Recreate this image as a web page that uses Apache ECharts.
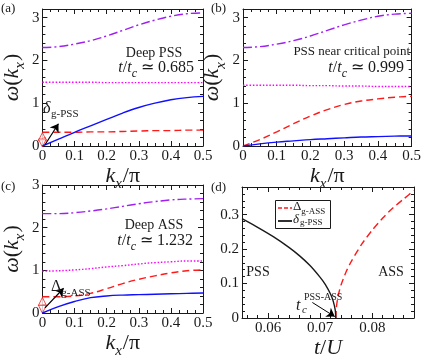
<!DOCTYPE html>
<html>
<head>
<meta charset="utf-8">
<script src="https://cdn.jsdelivr.net/npm/echarts@6/dist/echarts.min.js"></script>
<style>html,body{margin:0;padding:0;background:#fff}#chart{width:424px;height:360px}</style>
</head>
<body>
<div id="chart"></div>
<script>
// momentum grid k_x/pi, shared by panels a-c
var kx = [0, 0.05, 0.1, 0.15, 0.2, 0.25, 0.3, 0.35, 0.4, 0.45, 0.5];

// (a) deep PSS, t/tc = 0.685
var aBlue    = [0, 0.16, 0.32, 0.47, 0.62, 0.77, 0.90, 1.00, 1.08, 1.13, 1.16];
var aRed     = [0.32, 0.32, 0.32, 0.33, 0.33, 0.34, 0.35, 0.36, 0.36, 0.37, 0.37];
var aDot     = [1.49, 1.49, 1.49, 1.49, 1.48, 1.48, 1.48, 1.48, 1.48, 1.48, 1.48];
var aDashDot = [2.30, 2.32, 2.38, 2.46, 2.57, 2.70, 2.83, 2.94, 3.03, 3.09, 3.11];

// (b) PSS near critical point, t/tc = 0.999
var bBlue    = [0, 0.05, 0.09, 0.12, 0.15, 0.17, 0.19, 0.21, 0.22, 0.23, 0.235];
var bRed     = [0, 0.15, 0.33, 0.52, 0.70, 0.85, 0.97, 1.05, 1.10, 1.14, 1.16];
var bDot     = [1.42, 1.42, 1.42, 1.42, 1.41, 1.41, 1.40, 1.40, 1.39, 1.39, 1.39];
var bDashDot = [2.30, 2.32, 2.38, 2.46, 2.57, 2.70, 2.83, 2.94, 3.03, 3.08, 3.10];

// (c) deep ASS, t/tc = 1.232
var cBlue    = [0, 0.15, 0.27, 0.36, 0.40, 0.42, 0.43, 0.44, 0.45, 0.46, 0.47];
var cRed     = [0.38, 0.38, 0.40, 0.46, 0.57, 0.69, 0.79, 0.87, 0.94, 0.99, 1.01];
var cDot     = [0.98, 0.99, 1.01, 1.04, 1.08, 1.11, 1.15, 1.18, 1.20, 1.22, 1.22];
var cDashDot = [2.33, 2.33, 2.35, 2.39, 2.44, 2.50, 2.56, 2.61, 2.65, 2.67, 2.68];

// gap markers at k=0 (up / down open triangles)
var aGapMarks = [0.22, 0.07];
var cGapMarks = [0.27, 0.09];

// (d) gaps vs t/U
var tPss = [0.055, 0.058, 0.061, 0.064, 0.066, 0.068, 0.070, 0.071, 0.072, 0.0725, 0.0729, 0.073];
var gPss = [0.288, 0.263, 0.236, 0.205, 0.181, 0.153, 0.118, 0.097, 0.069, 0.049, 0.022, 0];
var tAss = [0.073, 0.0731, 0.0733, 0.0736, 0.074, 0.075, 0.076, 0.078, 0.080, 0.082, 0.084, 0.086, 0.088];
var gAss = [0, 0.03, 0.052, 0.074, 0.096, 0.135, 0.165, 0.215, 0.255, 0.29, 0.32, 0.345, 0.37];

// ticks
var kMajor = [0, 0.1, 0.2, 0.3, 0.4, 0.5];
var kMinor = [0.025, 0.05, 0.075, 0.125, 0.15, 0.175, 0.225, 0.25, 0.275, 0.325, 0.35, 0.375, 0.425, 0.45, 0.475];
var wMajor = [0, 1, 2, 3];
var wMinor = [0.2, 0.4, 0.6, 0.8, 1.2, 1.4, 1.6, 1.8, 2.2, 2.4, 2.6, 2.8, 3.0];
var tMajor = [0.06, 0.07, 0.08];
var tMinor = [0.056, 0.058, 0.062, 0.064, 0.066, 0.068, 0.072, 0.074, 0.076, 0.078, 0.082, 0.084, 0.086];
var gMajor = [0, 0.1, 0.2, 0.3];
var gMinor = [0.02, 0.04, 0.06, 0.08, 0.12, 0.14, 0.16, 0.18, 0.22, 0.24, 0.26, 0.28, 0.32, 0.34, 0.36];

var serif = 'Liberation Serif';
var ink = '#1a1a1a';
var BLUE = '#1010ff', RED = '#ff1a1a', MAG = '#ff00ff', PURP = '#a020f0';

var nameRich = {
  i: {fontFamily: serif, fontStyle: 'italic', fontSize: 22, color: ink},
  n: {fontFamily: serif, fontSize: 22, color: ink},
  s: {fontFamily: serif, fontStyle: 'italic', fontSize: 15, color: ink, verticalAlign: 'bottom', padding: [0, 1, -5, 0]}
};
var kName = '{i|k}{s|x}{n|/π}';
var wName = '{i|ω}{n|(}{i|k}{s|x}{n|)}';

var xAxes = [], yAxes = [];
function addAxes(list, g, dim, range, major, minor, name, gap) {
  var sides = dim === 'x' ? ['bottom', 'top'] : ['left', 'right'];
  var first = list.length;
  sides.forEach(function (side, s) {
    [major, minor].forEach(function (ticks, m) {
      var main = s === 0 && m === 0;
      list.push({
        type: 'value', gridIndex: g, position: side, min: range[0], max: range[1],
        axisLine: {show: m === 0, onZero: false, lineStyle: {color: ink, width: 1}},
        axisTick: {show: true, inside: true, length: m === 0 ? 5 : 3, customValues: ticks,
                   lineStyle: {color: ink, width: 1}},
        axisLabel: {show: main, customValues: major, fontFamily: serif, fontSize: 15,
                    color: ink, margin: 3},
        splitLine: {show: false},
        name: main ? name : '',
        nameLocation: 'middle', nameGap: gap,
        nameTextStyle: {rich: nameRich}
      });
    });
  });
  return first;
}

var ax = [], ay = [];
ax[0] = addAxes(xAxes, 0, 'x', [0, 0.5], kMajor, kMinor, kName, 19);
ay[0] = addAxes(yAxes, 0, 'y', [0, 3.2], wMajor, wMinor, wName, 14);
ax[1] = addAxes(xAxes, 1, 'x', [0, 0.5], kMajor, kMinor, kName, 19);
ay[1] = addAxes(yAxes, 1, 'y', [0, 3.2], wMajor, wMinor, wName, 14);
ax[2] = addAxes(xAxes, 2, 'x', [0, 0.5], kMajor, kMinor, kName, 19);
ay[2] = addAxes(yAxes, 2, 'y', [0, 3], wMajor, wMinor, wName, 14);
ax[3] = addAxes(xAxes, 3, 'x', [0.055, 0.088], tMajor, tMinor, '{i|t}{n|/}{i|U}', 19);
ay[3] = addAxes(yAxes, 3, 'y', [0, 0.38], gMajor, gMinor, '', 14);

function zip(xs, ys) { return xs.map(function (x, i) { return [x, ys[i]]; }); }

function curve(p, xs, ys, color, dash) {
  return {
    type: 'line', xAxisIndex: ax[p], yAxisIndex: ay[p],
    data: zip(xs, ys), symbol: 'none', smooth: 0.4, silent: true,
    lineStyle: {color: color, width: 1.4, type: dash}, itemStyle: {color: color}
  };
}

var DASH = [7, 4], DOT = [1.5, 1.8], DASHDOT = [9, 3, 2, 3];

function gapArrow(p, marks, from, to) {
  return {
    type: 'scatter', xAxisIndex: ax[p], yAxisIndex: ay[p], silent: true,
    data: [{value: [0, marks[0]], symbolRotate: 0}, {value: [0, marks[1]], symbolRotate: 180}],
    symbol: 'triangle', symbolSize: [8, 8],
    itemStyle: {color: '#fff', borderColor: RED, borderWidth: 1},
    markLine: {
      silent: true, symbol: ['none', 'arrow'], symbolSize: 8,
      label: {show: false},
      lineStyle: {color: '#000', width: 1.2, type: 'solid', curveness: -0.45},
      data: [[{coord: from}, {coord: to}]]
    }
  };
}

var series = [
  curve(0, kx, aDashDot, PURP, DASHDOT),
  curve(0, kx, aDot, MAG, DOT),
  curve(0, kx, aRed, RED, DASH),
  curve(0, kx, aBlue, BLUE, 'solid'),
  gapArrow(0, aGapMarks, [0.008, 0.03], [0.05, 0.52]),
  curve(1, kx, bDashDot, PURP, DASHDOT),
  curve(1, kx, bDot, MAG, DOT),
  curve(1, kx, bRed, RED, DASH),
  curve(1, kx, bBlue, BLUE, 'solid'),
  curve(2, kx, cDashDot, PURP, DASHDOT),
  curve(2, kx, cDot, MAG, DOT),
  curve(2, kx, cRed, RED, DASH),
  curve(2, kx, cBlue, BLUE, 'solid'),
  gapArrow(2, cGapMarks, [0.008, 0.12], [0.066, 0.58]),
  {
    type: 'line', xAxisIndex: ax[3], yAxisIndex: ay[3],
    data: zip(tAss, gAss), symbol: 'none', smooth: 0.2, silent: true,
    lineStyle: {color: RED, width: 1.4, type: DASH}
  },
  {
    type: 'line', xAxisIndex: ax[3], yAxisIndex: ay[3],
    data: zip(tPss, gPss), symbol: 'none', smooth: 0.2, silent: true,
    lineStyle: {color: ink, width: 1.4, type: 'solid'},
    markLine: {
      silent: true, symbol: ['none', 'arrow'], symbolSize: 8, label: {show: false},
      lineStyle: {color: '#000', width: 1, type: 'solid'},
      data: [[{coord: [0.0685, 0.045]}, {coord: [0.0728, 0.004]}]]
    }
  }
];

function txt(x, y, text, align, size, rich, italic) {
  return {
    type: 'text', x: x, y: y, silent: true, z: 100,
    style: {text: text, fontFamily: serif, fontSize: size || 14, fill: ink,
            fontStyle: italic ? 'italic' : 'normal',
            align: align || 'left', verticalAlign: 'middle', rich: rich}
  };
}
var annRich = {
  i: {fontFamily: serif, fontStyle: 'italic', fontSize: 16, fill: ink},
  n: {fontFamily: serif, fontSize: 16, fill: ink},
  c: {fontFamily: serif, fontStyle: 'italic', fontSize: 12, fill: ink, verticalAlign: 'bottom', padding: [0, 0, -4, 0]},
  g: {fontFamily: serif, fontSize: 16, fill: ink},
  s: {fontFamily: serif, fontSize: 11, fill: ink, verticalAlign: 'bottom', padding: [0, 0, -4, 0]}
};
var legRich = {
  g: {fontFamily: serif, fontSize: 13, fill: ink},
  s: {fontFamily: serif, fontSize: 9, fill: ink, verticalAlign: 'bottom', padding: [0, 0, -3, 0]}
};

var option = {
  animation: false,
  backgroundColor: '#fff',
  textStyle: {fontFamily: serif},
  grid: [
    {left: 33, top: 9, width: 170, height: 137},
    {left: 243, top: 9, width: 170, height: 137},
    {left: 33, top: 185, width: 170, height: 139},
    {left: 242, top: 187, width: 172, height: 137}
  ],
  xAxis: xAxes,
  yAxis: yAxes,
  graphic: [
    txt(1, 9, '(a)', 'left', 13),
    txt(211, 9, '(b)', 'left', 13),
    txt(1, 187, '(c)', 'left', 13),
    txt(211, 188, '(d)', 'left', 13),
    txt(154, 53, 'Deep PSS', 'center', 14),
    txt(194, 68, '{i|t}{n|/}{i|t}{c|c}{n| ≃ 0.685}', 'right', 16, annRich),
    txt(410, 52, 'PSS near critical point', 'right', 13),
    txt(404, 68, '{i|t}{n|/}{i|t}{c|c}{n| ≃ 0.999}', 'right', 16, annRich),
    txt(154, 225, 'Deep ASS', 'center', 14),
    txt(193, 241, '{i|t}{n|/}{i|t}{c|c}{n| ≃ 1.232}', 'right', 16, annRich),
    txt(43, 109, 'δ', 'left', 16, null, true),
    txt(51, 114, 'g-PSS', 'left', 11),
    txt(51, 287, '{g|Δ}{s|g-ASS}', 'left', 16, annRich),
    txt(258, 272, 'PSS', 'center', 14),
    txt(391, 272, 'ASS', 'center', 14),
    txt(296, 306, 't', 'left', 16, null, true),
    txt(302, 310, 'c', 'left', 11, null, true),
    txt(304, 297, 'PSS-ASS', 'left', 10),
    // legend box of panel (d)
    {type: 'rect', z: 99, silent: true, shape: {x: 275.5, y: 200.5, width: 55, height: 28},
     style: {fill: '#fff', stroke: ink, lineWidth: 1}},
    {type: 'line', z: 100, silent: true, shape: {x1: 278, y1: 208, x2: 292, y2: 208},
     style: {stroke: RED, lineWidth: 1.4, lineDash: [4, 2]}},
    {type: 'line', z: 100, silent: true, shape: {x1: 278, y1: 221, x2: 292, y2: 221},
     style: {stroke: ink, lineWidth: 1.8}},
    txt(293, 207, '{g|Δ}{s|g-ASS}', 'left', 13, legRich),
    txt(293, 220, 'δ', 'left', 13, null, true),
    txt(300, 223, 'g-PSS', 'left', 9)
  ],
  series: series
};

var chart = echarts.init(document.getElementById('chart'));
chart.setOption(option);
</script>
</body>
</html>
